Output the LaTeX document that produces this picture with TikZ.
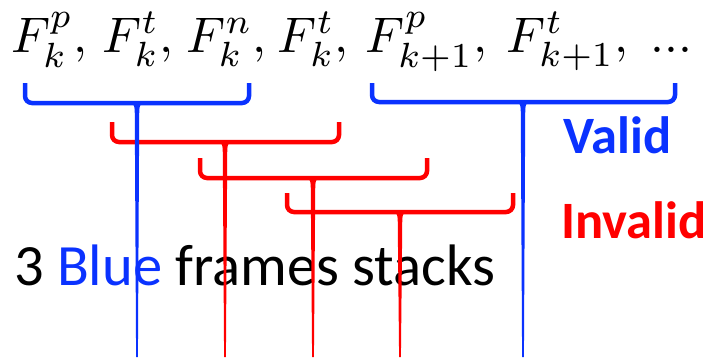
\documentclass[tikz,border=0pt]{standalone}
\usepackage{fontspec}
\newfontfamily\carlito{Carlito}
\definecolor{vblue}{RGB}{10,50,255}
\definecolor{vred}{RGB}{255,0,0}
\newcommand\stackbrace[7]{% name, colour, left x, right x, top y, bar y, centre x
  \coordinate (#1-l) at (#3,#5);
  \coordinate (#1-r) at (#4,#5);
  \coordinate (#1-c) at (#7,#6);
  \draw[bracearm,#2] (#1-l) -- (#3,#6) -- (#4,#6) -- (#1-r);
  \fill[#2] ([xshift=-7pt]#1-c) .. controls ([xshift=-2.2pt]#1-c) and ([xshift=-2.2pt,yshift=-4pt]#1-c) .. ([xshift=-2.2pt,yshift=-16pt]#1-c)
     -- (#7-0.9,357) -- (#7+0.9,357)
     -- ([xshift=2.2pt,yshift=-16pt]#1-c) .. controls ([xshift=2.2pt,yshift=-4pt]#1-c) and ([xshift=2.2pt]#1-c) .. ([xshift=7pt]#1-c) -- cycle;
}
\begin{document}
\begin{tikzpicture}[x=1pt,y=-1pt,
  bracearm/.style={line width=4.5pt, rounded corners=7pt},
  label/.style={inner sep=0pt, anchor=base west}]
\useasboundingbox (0,0) rectangle (708,357);
\node[label, scale=5] (formula) at (10,52) {$F_k^p,\kern1.4pt F_k^t,\kern1pt F_k^n,\kern0.6pt F_k^t,\kern1.8pt F_{k+1}^p,\kern2.3pt F_{k+1}^t,\kern2.8pt ...$};
\node[label, font=\carlito\fontsize{58.5}{64}\selectfont] (stacks) at (14,285) {3 \textcolor{vblue}{Blue} frames stacks};
\node[label, font=\carlito\bfseries\fontsize{52.5}{60}\selectfont, text=vblue] (valid) at (563,153) {Valid};
\node[label, font=\carlito\bfseries\fontsize{52.5}{60}\selectfont, text=vred] (invalid) at (561,238) {Invalid};
\stackbrace{r1}{vred}{112}{339}{122}{142}{225}
\stackbrace{r2}{vred}{200}{427}{158}{178}{313}
\stackbrace{r3}{vred}{287}{513}{193}{212}{400}
\stackbrace{b1}{vblue}{25}{249}{83}{103}{137}
\stackbrace{b2}{vblue}{372}{675}{83}{102}{523}
\end{tikzpicture}
\end{document}
